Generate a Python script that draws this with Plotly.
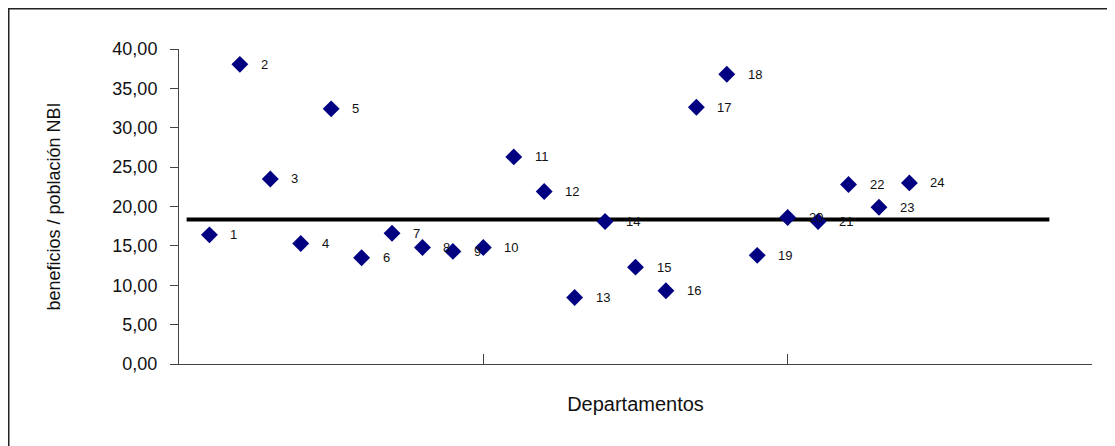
import plotly.graph_objects as go

departamentos = list(range(1, 25))
valores = [16.4, 38.05, 23.5, 15.3, 32.4, 13.5, 16.6, 14.8, 14.3, 14.8,
           26.3, 21.9, 8.45, 18.1, 12.3, 9.3, 32.6, 36.8, 13.8, 18.6,
           18.1, 22.8, 19.9, 23.0]
etiquetas = [str(d) for d in departamentos]
linea_x = [0.25, 28.6]
linea_valor = 18.35
y_ticks = [0, 5, 10, 15, 20, 25, 30, 35, 40]
y_ticktext = ["0,00", "5,00", "10,00", "15,00", "20,00", "25,00", "30,00", "35,00", "40,00"]
x_ticks = [0, 10, 20, 30]

# page body has an 8px margin; figure coordinates are page coordinates minus 8
OFF = 8
W, H = 1115 - OFF, 446 - OFF
L, R, T, B = 179 - OFF, 1092 - OFF, 49 - OFF, 364 - OFF

fig = go.Figure()
fig.add_trace(go.Scatter(
    x=linea_x, y=[linea_valor, linea_valor], mode="lines",
    line=dict(color="black", width=4), hoverinfo="skip", showlegend=False))
fig.add_trace(go.Scatter(
    x=departamentos, y=valores, mode="markers",
    marker=dict(symbol="diamond", size=13, color="#000080",
                line=dict(width=0)),
    showlegend=False))

for x, y, t in zip(departamentos, valores, etiquetas):
    fig.add_annotation(x=x, y=y, text=t, showarrow=False, xanchor="left",
                       yanchor="middle", xshift=19,
                       font=dict(family="Liberation Sans, Arial", size=13, color="#111"))

pw = R - L
ph = B - T
def px_x(p):
    return (p - L) / pw
def px_y(p):
    return (B - p) / ph

fig.add_shape(type="line", xref="paper", yref="paper",
              x0=px_x(0), x1=px_x(W + 20), y0=px_y(0.5), y1=px_y(0.5),
              line=dict(color="#222", width=2))
fig.add_shape(type="line", xref="paper", yref="paper",
              x0=px_x(0.5), x1=px_x(0.5), y0=px_y(0), y1=px_y(H + 20),
              line=dict(color="#222", width=2))

fig.update_layout(
    width=W, height=H,
    margin=dict(l=L, r=W - R, t=T, b=H - B, pad=0),
    paper_bgcolor="white", plot_bgcolor="white",
    font=dict(family="Liberation Sans, Arial", color="#111"),
    xaxis=dict(range=[0, 30], tickvals=x_ticks, showticklabels=False,
               ticks="inside", ticklen=10, tickcolor="#444",
               showline=True, linecolor="#444", linewidth=1,
               showgrid=False, zeroline=False,
               title=dict(text="Departamentos", standoff=32,
                          font=dict(size=20, color="#111"))),
    yaxis=dict(range=[0, 40], tickvals=y_ticks, ticktext=y_ticktext,
               ticks="outside", ticklen=8, tickcolor="#444",
               ticklabelstandoff=9,
               showline=True, linecolor="#444", linewidth=1,
               showgrid=False, zeroline=False,
               tickfont=dict(size=18, color="#111"),
               title=dict(text="beneficios / población NBI", standoff=47,
                          font=dict(size=18, color="#111"))),
)

fig.write_html("out.html")
